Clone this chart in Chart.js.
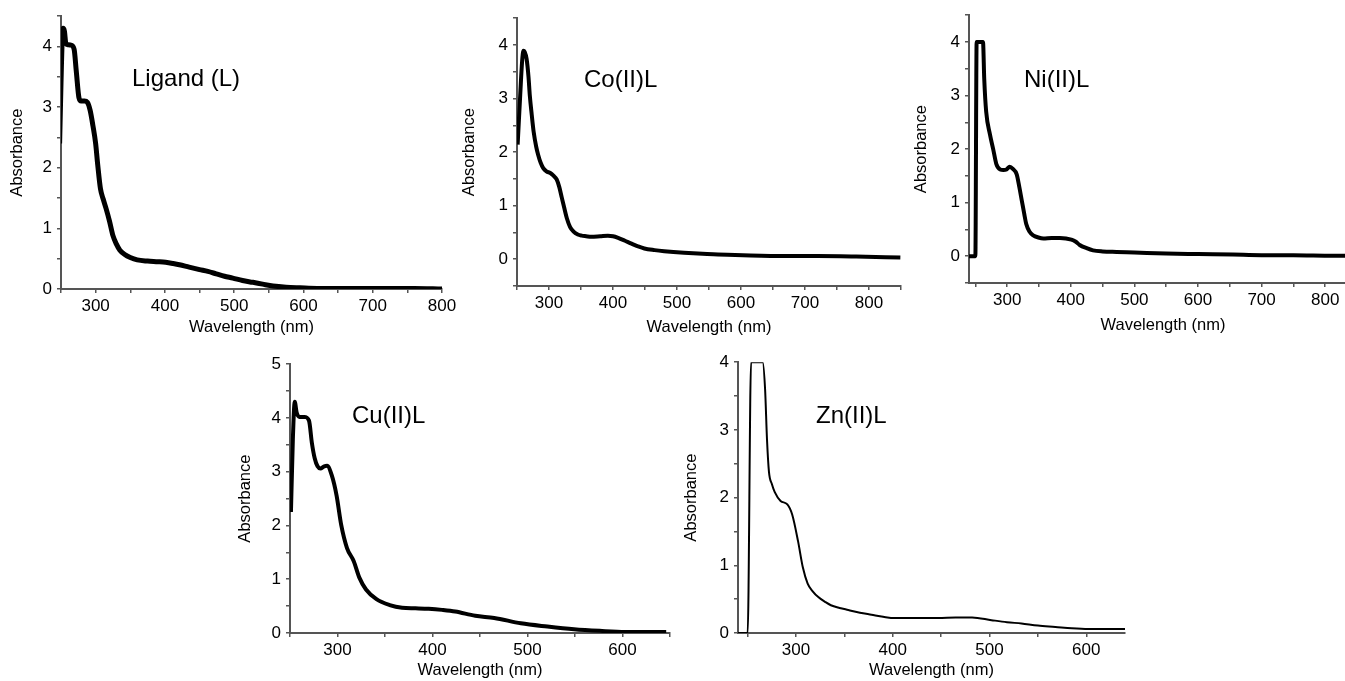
<!DOCTYPE html>
<html>
<head>
<meta charset="utf-8">
<script src="https://cdn.jsdelivr.net/npm/chart.js@4.4.1/dist/chart.umd.min.js"></script>
<style>
  html, body { margin: 0; padding: 0; background: #fff; overflow: hidden; width: 1345px; height: 681px; position: relative; }
  canvas { position: absolute; }
  .name { position: absolute; font: 24px/24px "Liberation Sans", Arial, sans-serif; color: #000; white-space: nowrap; }
</style>
</head>
<body>
<canvas id="pLigand"></canvas>
<canvas id="pCo"></canvas>
<canvas id="pNi"></canvas>
<canvas id="pCu"></canvas>
<canvas id="pZn"></canvas>
<div class="name" style="left:132px;top:66px">Ligand (L)</div>
<div class="name" style="left:584px;top:67px">Co(II)L</div>
<div class="name" style="left:1024px;top:67px">Ni(II)L</div>
<div class="name" style="left:352px;top:403px">Cu(II)L</div>
<div class="name" style="left:816px;top:403px">Zn(II)L</div>
<script>
// tick positions (labels only on the round ones)
const xTickValues = [250, 300, 350, 400, 450, 500, 550, 600, 650, 700, 750, 800, 850];
const yTickValues = [-0.5, 0, 0.5, 1, 1.5, 2, 2.5, 3, 3.5, 4, 4.5, 5];

// spectra: wavelength (nm) and absorbance
const ligandNm  = [248, 250, 252, 253, 255, 257, 260, 265, 269, 272, 276, 279, 284, 288, 292, 296, 300, 303, 307, 311,
                   315, 320, 325, 330, 335, 342, 350, 360, 375, 390, 401, 412, 421, 435, 450, 462, 474, 486, 498, 512,
                   527, 541, 556, 575, 595, 620, 643, 680, 720, 760, 800];
const ligandAbs = [2.4, 3.4, 4.2, 4.3, 4.25, 4.05, 4.03, 4.02, 3.95, 3.6, 3.15, 3.1, 3.1, 3.08, 2.95, 2.7, 2.4, 2.05, 1.65, 1.48,
                   1.33, 1.12, 0.88, 0.74, 0.64, 0.57, 0.52, 0.48, 0.46, 0.45, 0.44, 0.42, 0.40, 0.36, 0.32, 0.29, 0.25, 0.21, 0.18, 0.14,
                   0.11, 0.08, 0.05, 0.03, 0.02, 0.01, 0.01, 0.01, 0.01, 0.01, 0.0];

const coNm  = [251, 253, 255, 258, 260, 262, 265, 268, 270, 273, 276, 280, 283, 287, 291, 296, 302, 307, 312, 316,
               320, 324, 328, 333, 338, 345, 351, 358, 366, 380, 392, 400, 408, 418, 429, 439, 449, 465, 480, 511,
               540, 564, 615, 670, 719, 780, 849];
const coAbs = [2.14, 2.6, 3.06, 3.7, 3.89, 3.87, 3.74, 3.4, 3.06, 2.7, 2.38, 2.1, 1.95, 1.8, 1.70, 1.64, 1.61, 1.56, 1.49, 1.35,
               1.15, 0.95, 0.76, 0.6, 0.52, 0.46, 0.44, 0.43, 0.42, 0.43, 0.44, 0.43, 0.40, 0.35, 0.29, 0.24, 0.20, 0.17, 0.15, 0.12,
               0.10, 0.09, 0.07, 0.06, 0.06, 0.05, 0.03];

const niNm  = [240, 245, 250, 252, 256, 262, 264, 267, 273, 278, 283, 289, 294, 299, 304, 309, 315, 319, 323, 327,
               330, 335, 341, 349, 357, 370, 383, 401, 408, 414, 425, 435, 450, 472, 500, 550, 600, 655, 700, 750,
               812, 850];
const niAbs = [0, 0, 0, 4.0, 4.0, 4.0, 3.3, 2.7, 2.27, 2.0, 1.72, 1.62, 1.61, 1.62, 1.67, 1.63, 1.53, 1.3, 1.04, 0.78,
               0.6, 0.46, 0.39, 0.35, 0.33, 0.34, 0.34, 0.31, 0.27, 0.21, 0.15, 0.11, 0.09, 0.08, 0.07, 0.05, 0.04, 0.03, 0.02, 0.02,
               0.01, 0.01];

const cuNm  = [251, 253, 255, 257, 260, 265, 270, 273, 276, 279, 282, 286, 289, 294, 299, 304, 310, 317, 323, 330,
               341, 355, 368, 382, 396, 410, 424, 445, 465, 493, 521, 549, 576, 603, 646];
const cuAbs = [2.25, 3.6, 4.3, 4.1, 4.02, 4.02, 3.95, 3.54, 3.25, 3.1, 3.06, 3.1, 3.11, 2.93, 2.56, 2.0, 1.58, 1.34, 1.03, 0.81,
               0.63, 0.52, 0.47, 0.46, 0.45, 0.43, 0.40, 0.32, 0.28, 0.18, 0.12, 0.07, 0.04, 0.02, 0.02];

const znNm  = [240, 245, 250, 253.5, 258, 265.5, 268, 270, 272, 275, 278, 284, 291, 296, 302, 307, 312, 317, 323, 330,
               336, 345, 354, 366, 378, 390, 402, 425, 447, 465, 482, 502, 518, 533, 550, 568, 585, 602, 620, 642];
const znAbs = [0, 0, 0, 4, 4, 4, 3.6, 2.85, 2.38, 2.2, 2.08, 1.95, 1.9, 1.75, 1.36, 0.97, 0.73, 0.62, 0.53, 0.46,
               0.41, 0.37, 0.34, 0.30, 0.27, 0.24, 0.22, 0.22, 0.22, 0.23, 0.23, 0.19, 0.16, 0.14, 0.11, 0.09, 0.07, 0.06, 0.06, 0.06];

const tickFont = { family: '"Liberation Sans", Arial, sans-serif', size: 17 };
const titleFont = { family: '"Liberation Sans", Arial, sans-serif', size: 16.5 };
const axisGrey = '#555';

function spectrum(id, box, nm, abs, range, lineWidth) {
    const cv = document.getElementById(id);
    cv.style.left = box.left + 'px';
    cv.style.top = box.top + 'px';
    cv.width = box.w;
    cv.height = box.h;
    cv.style.width = box.w + 'px';
    cv.style.height = box.h + 'px';

    return new Chart(cv, {
        type: 'line',
        data: {
            datasets: [{
                data: nm.map((x, i) => ({ x: x, y: abs[i] })),
                borderColor: '#000',
                borderWidth: lineWidth,
                pointRadius: 0,
                fill: false,
                cubicInterpolationMode: 'monotone'
            }]
        },
        options: {
            responsive: false,
            animation: false,
            devicePixelRatio: 1,
            layout: { padding: { top: 12, right: 20, left: 0, bottom: 0 } },
            plugins: { legend: { display: false }, tooltip: { enabled: false } },
            scales: {
                x: {
                    type: 'linear',
                    min: range.x[0],
                    max: range.x[1],
                    afterFit: s => { s.height = box.xH; },
                    afterBuildTicks: s => { s.ticks = xTickValues.filter(v => v >= s.min && v <= s.max).map(v => ({ value: v })); },
                    ticks: {
                        autoSkip: false, maxRotation: 0, padding: 3, color: '#000', font: tickFont,
                        callback: v => (v % 100 === 0 ? String(v) : '')
                    },
                    grid: { drawOnChartArea: false, tickLength: 4, color: axisGrey, lineWidth: 1.5 },
                    border: { color: axisGrey, width: 2 },
                    title: { display: true, text: 'Wavelength (nm)', padding: 0, color: '#000', font: titleFont }
                },
                y: {
                    type: 'linear',
                    min: range.y[0],
                    max: range.y[1],
                    afterFit: s => { s.width = box.yW; },
                    afterBuildTicks: s => { s.ticks = yTickValues.filter(v => v >= s.min && v <= s.max).map(v => ({ value: v })); },
                    ticks: {
                        autoSkip: false, padding: 5, color: '#000', font: tickFont,
                        callback: v => (Number.isInteger(v) && v >= 0 ? String(v) : '')
                    },
                    grid: { drawOnChartArea: false, tickLength: 4, color: axisGrey, lineWidth: 1.5 },
                    border: { color: axisGrey, width: 2 },
                    title: { display: true, text: 'Absorbance', padding: 0, color: '#000', font: titleFont }
                }
            }
        }
    });
}

spectrum('pLigand', { left: 8, top: 1, w: 454, h: 336, yW: 53, xH: 48 }, ligandNm, ligandAbs, { x: [250, 800], y: [0, 4.5] }, 5);
spectrum('pCo', { left: 460, top: 3, w: 461, h: 334, yW: 57, xH: 51 }, coNm, coAbs, { x: [250, 850], y: [-0.5, 4.5] }, 4);
spectrum('pNi', { left: 912, top: 0, w: 465, h: 335, yW: 57, xH: 52 }, niNm, niAbs, { x: [240, 850], y: [-0.5, 4.5] }, 4);
spectrum('pCu', { left: 236, top: 349, w: 454, h: 331, yW: 54, xH: 47 }, cuNm, cuAbs, { x: [250, 650], y: [0, 5] }, 4);
spectrum('pZn', { left: 682, top: 347, w: 463, h: 333, yW: 56, xH: 47 }, znNm, znAbs, { x: [240, 640], y: [0, 4] }, 2);
</script>
</body>
</html>
